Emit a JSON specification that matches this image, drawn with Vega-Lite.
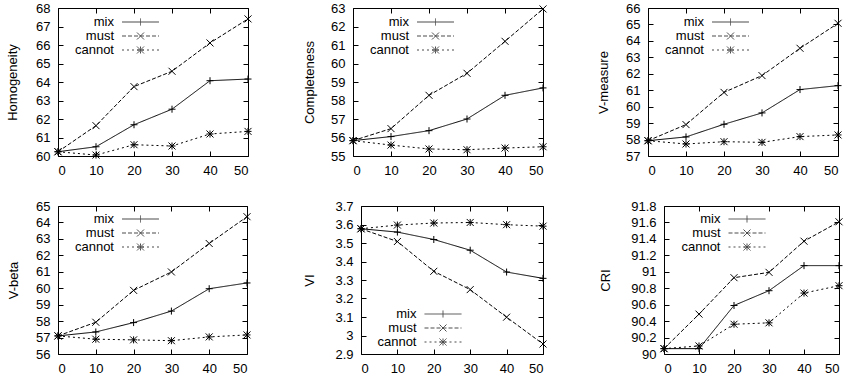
{
  "$schema": "https://vega.github.io/schema/vega-lite/v6.json",
  "autosize": {"type": "pad"},
  "padding": {"left": 5, "top": 1, "right": 4, "bottom": 2},
  "background": "white",
  "config": {
    "font": "Liberation Sans",
    "view": {"stroke": "black", "strokeWidth": 1},
    "axis": {
      "domain": false,
      "grid": false,
      "tickColor": "black",
      "tickSize": -5,
      "tickWidth": 1,
      "labelFontSize": 13,
      "labelColor": "black",
      "labelPadding": 13,
      "titleFontSize": 13,
      "titleFontWeight": "normal",
      "titleColor": "black"
    },
    "legend": {
      "orient": "none",
      "padding": 0,
      "title": null,
      "labelFontSize": 13,
      "labelColor": "black",
      "labelAlign": "right",
      "labelOffset": -33,
      "symbolSize": 144,
      "symbolStrokeWidth": 1,
      "symbolStrokeColor": "black",
      "symbolFillColor": "transparent",
      "rowPadding": 0
    }
  },
  "datasets": {
    "scores": [
      {"metric": "Homogeneity", "series": "mix", "pct": 0, "value": 60.23},
      {"metric": "Homogeneity", "series": "mix", "pct": 10, "value": 60.5},
      {"metric": "Homogeneity", "series": "mix", "pct": 20, "value": 61.69},
      {"metric": "Homogeneity", "series": "mix", "pct": 30, "value": 62.53},
      {"metric": "Homogeneity", "series": "mix", "pct": 40, "value": 64.07},
      {"metric": "Homogeneity", "series": "mix", "pct": 50, "value": 64.16},
      {"metric": "Homogeneity", "series": "must", "pct": 0, "value": 60.23},
      {"metric": "Homogeneity", "series": "must", "pct": 10, "value": 61.64},
      {"metric": "Homogeneity", "series": "must", "pct": 20, "value": 63.75},
      {"metric": "Homogeneity", "series": "must", "pct": 30, "value": 64.58},
      {"metric": "Homogeneity", "series": "must", "pct": 40, "value": 66.11},
      {"metric": "Homogeneity", "series": "must", "pct": 50, "value": 67.41},
      {"metric": "Homogeneity", "series": "cannot", "pct": 0, "value": 60.23},
      {"metric": "Homogeneity", "series": "cannot", "pct": 10, "value": 60.05},
      {"metric": "Homogeneity", "series": "cannot", "pct": 20, "value": 60.61},
      {"metric": "Homogeneity", "series": "cannot", "pct": 30, "value": 60.54},
      {"metric": "Homogeneity", "series": "cannot", "pct": 40, "value": 61.19},
      {"metric": "Homogeneity", "series": "cannot", "pct": 50, "value": 61.33},
      {"metric": "Completeness", "series": "mix", "pct": 0, "value": 55.83},
      {"metric": "Completeness", "series": "mix", "pct": 10, "value": 56.05},
      {"metric": "Completeness", "series": "mix", "pct": 20, "value": 56.37},
      {"metric": "Completeness", "series": "mix", "pct": 30, "value": 57.0},
      {"metric": "Completeness", "series": "mix", "pct": 40, "value": 58.28},
      {"metric": "Completeness", "series": "mix", "pct": 50, "value": 58.68},
      {"metric": "Completeness", "series": "must", "pct": 0, "value": 55.83},
      {"metric": "Completeness", "series": "must", "pct": 10, "value": 56.48},
      {"metric": "Completeness", "series": "must", "pct": 20, "value": 58.28},
      {"metric": "Completeness", "series": "must", "pct": 30, "value": 59.47},
      {"metric": "Completeness", "series": "must", "pct": 40, "value": 61.2},
      {"metric": "Completeness", "series": "must", "pct": 50, "value": 62.95},
      {"metric": "Completeness", "series": "cannot", "pct": 0, "value": 55.83},
      {"metric": "Completeness", "series": "cannot", "pct": 10, "value": 55.59},
      {"metric": "Completeness", "series": "cannot", "pct": 20, "value": 55.38},
      {"metric": "Completeness", "series": "cannot", "pct": 30, "value": 55.34},
      {"metric": "Completeness", "series": "cannot", "pct": 40, "value": 55.43},
      {"metric": "Completeness", "series": "cannot", "pct": 50, "value": 55.5},
      {"metric": "V-measure", "series": "mix", "pct": 0, "value": 57.93},
      {"metric": "V-measure", "series": "mix", "pct": 10, "value": 58.16},
      {"metric": "V-measure", "series": "mix", "pct": 20, "value": 58.93},
      {"metric": "V-measure", "series": "mix", "pct": 30, "value": 59.62},
      {"metric": "V-measure", "series": "mix", "pct": 40, "value": 61.04},
      {"metric": "V-measure", "series": "mix", "pct": 50, "value": 61.28},
      {"metric": "V-measure", "series": "must", "pct": 0, "value": 57.93},
      {"metric": "V-measure", "series": "must", "pct": 10, "value": 58.91},
      {"metric": "V-measure", "series": "must", "pct": 20, "value": 60.87},
      {"metric": "V-measure", "series": "must", "pct": 30, "value": 61.89},
      {"metric": "V-measure", "series": "must", "pct": 40, "value": 63.55},
      {"metric": "V-measure", "series": "must", "pct": 50, "value": 65.07},
      {"metric": "V-measure", "series": "cannot", "pct": 0, "value": 57.93},
      {"metric": "V-measure", "series": "cannot", "pct": 10, "value": 57.73},
      {"metric": "V-measure", "series": "cannot", "pct": 20, "value": 57.87},
      {"metric": "V-measure", "series": "cannot", "pct": 30, "value": 57.83},
      {"metric": "V-measure", "series": "cannot", "pct": 40, "value": 58.18},
      {"metric": "V-measure", "series": "cannot", "pct": 50, "value": 58.28},
      {"metric": "V-beta", "series": "mix", "pct": 0, "value": 57.1},
      {"metric": "V-beta", "series": "mix", "pct": 10, "value": 57.34},
      {"metric": "V-beta", "series": "mix", "pct": 20, "value": 57.91},
      {"metric": "V-beta", "series": "mix", "pct": 30, "value": 58.61},
      {"metric": "V-beta", "series": "mix", "pct": 40, "value": 59.97},
      {"metric": "V-beta", "series": "mix", "pct": 50, "value": 60.32},
      {"metric": "V-beta", "series": "must", "pct": 0, "value": 57.1},
      {"metric": "V-beta", "series": "must", "pct": 10, "value": 57.93},
      {"metric": "V-beta", "series": "must", "pct": 20, "value": 59.87},
      {"metric": "V-beta", "series": "must", "pct": 30, "value": 60.99},
      {"metric": "V-beta", "series": "must", "pct": 40, "value": 62.72},
      {"metric": "V-beta", "series": "must", "pct": 50, "value": 64.35},
      {"metric": "V-beta", "series": "cannot", "pct": 0, "value": 57.1},
      {"metric": "V-beta", "series": "cannot", "pct": 10, "value": 56.9},
      {"metric": "V-beta", "series": "cannot", "pct": 20, "value": 56.86},
      {"metric": "V-beta", "series": "cannot", "pct": 30, "value": 56.81},
      {"metric": "V-beta", "series": "cannot", "pct": 40, "value": 57.04},
      {"metric": "V-beta", "series": "cannot", "pct": 50, "value": 57.16},
      {"metric": "VI", "series": "mix", "pct": 0, "value": 3.577},
      {"metric": "VI", "series": "mix", "pct": 10, "value": 3.559},
      {"metric": "VI", "series": "mix", "pct": 20, "value": 3.519},
      {"metric": "VI", "series": "mix", "pct": 30, "value": 3.461},
      {"metric": "VI", "series": "mix", "pct": 40, "value": 3.343},
      {"metric": "VI", "series": "mix", "pct": 50, "value": 3.309},
      {"metric": "VI", "series": "must", "pct": 0, "value": 3.577},
      {"metric": "VI", "series": "must", "pct": 10, "value": 3.508},
      {"metric": "VI", "series": "must", "pct": 20, "value": 3.347},
      {"metric": "VI", "series": "must", "pct": 30, "value": 3.248},
      {"metric": "VI", "series": "must", "pct": 40, "value": 3.099},
      {"metric": "VI", "series": "must", "pct": 50, "value": 2.954},
      {"metric": "VI", "series": "cannot", "pct": 0, "value": 3.577},
      {"metric": "VI", "series": "cannot", "pct": 10, "value": 3.597},
      {"metric": "VI", "series": "cannot", "pct": 20, "value": 3.608},
      {"metric": "VI", "series": "cannot", "pct": 30, "value": 3.611},
      {"metric": "VI", "series": "cannot", "pct": 40, "value": 3.599},
      {"metric": "VI", "series": "cannot", "pct": 50, "value": 3.591},
      {"metric": "CRI", "series": "mix", "pct": 0, "value": 90.065},
      {"metric": "CRI", "series": "mix", "pct": 10, "value": 90.065},
      {"metric": "CRI", "series": "mix", "pct": 20, "value": 90.59},
      {"metric": "CRI", "series": "mix", "pct": 30, "value": 90.77},
      {"metric": "CRI", "series": "mix", "pct": 40, "value": 91.075},
      {"metric": "CRI", "series": "mix", "pct": 50, "value": 91.075},
      {"metric": "CRI", "series": "must", "pct": 0, "value": 90.065},
      {"metric": "CRI", "series": "must", "pct": 10, "value": 90.485},
      {"metric": "CRI", "series": "must", "pct": 20, "value": 90.928},
      {"metric": "CRI", "series": "must", "pct": 30, "value": 90.993},
      {"metric": "CRI", "series": "must", "pct": 40, "value": 91.372},
      {"metric": "CRI", "series": "must", "pct": 50, "value": 91.608},
      {"metric": "CRI", "series": "cannot", "pct": 0, "value": 90.065},
      {"metric": "CRI", "series": "cannot", "pct": 10, "value": 90.098},
      {"metric": "CRI", "series": "cannot", "pct": 20, "value": 90.362},
      {"metric": "CRI", "series": "cannot", "pct": 30, "value": 90.379},
      {"metric": "CRI", "series": "cannot", "pct": 40, "value": 90.741},
      {"metric": "CRI", "series": "cannot", "pct": 50, "value": 90.831}
    ]
  },
  "resolve": {"scale": {"strokeDash": "independent", "shape": "independent"}},
  "spacing": 21,
  "vconcat": [
    {
      "hconcat": [
        {
          "width": 190, "height": 148,
          "data": {"name": "scores"},
          "transform": [{"filter": "datum.metric === 'Homogeneity'"}],
          "encoding": {
            "x": {"field": "pct", "type": "quantitative", "scale": {"domain": [0, 50], "nice": false}},
            "y": {"field": "value", "type": "quantitative", "scale": {"domain": [60, 68], "nice": false, "zero": false}}
          },
          "layer": [
            {
              "mark": {"type": "line", "color": "black", "strokeWidth": 1},
              "encoding": {
                "x": {"field": "pct", "type": "quantitative", "axis": {"values": [0, 10, 20, 30, 40, 50], "title": null}},
                "y": {"field": "value", "type": "quantitative", "axis": {"values": [60, 61, 62, 63, 64, 65, 66, 67, 68], "format": "d", "title": "Homogeneity", "titleX": -46, "titleBaseline": "middle"}},
                "strokeDash": {"field": "series", "type": "nominal", "scale": {"domain": ["mix", "must", "cannot"], "range": [[1, 0], [4, 2], [2, 3]]}, "legend": {"legendX": 76, "legendY": 7.5}}
              }
            },
            {
              "transform": [{"filter": "false"}],
              "mark": {"type": "point", "filled": false, "color": "black", "strokeWidth": 1},
              "encoding": {
                "x": {"field": "pct", "type": "quantitative", "axis": null},
                "y": {"field": "value", "type": "quantitative", "axis": null},
                "shape": {"field": "series", "type": "nominal", "scale": {"domain": ["mix", "must", "cannot"], "range": [
                  "M-3.083,0L3.083,0M0,-0.583L0,0.583",
                  "M-3.083,0L3.083,0M0,0L0.292,0.292M0.292,0.292L0.583,0.583M0,0L-0.292,0.292M-0.292,0.292L-0.583,0.583M0,0L0.292,-0.292M0.292,-0.292L0.583,-0.583M0,0L-0.292,-0.292M-0.292,-0.292L-0.583,-0.583",
                  "M-3.083,0L3.083,0M0,0L0,0.292M0,0.292L0,0.583M0,0L0,-0.292M0,-0.292L0,-0.583M0,0L0.292,0M0.292,0L0.583,0M0,0L-0.292,0M-0.292,0L-0.583,0M0,0L0.194,0.194M0.194,0.194L0.389,0.389M0.389,0.389L0.583,0.583M0,0L-0.194,0.194M-0.194,0.194L-0.389,0.389M-0.389,0.389L-0.583,0.583M0,0L0.194,-0.194M0.194,-0.194L0.389,-0.389M0.389,-0.389L0.583,-0.583M0,0L-0.194,-0.194M-0.194,-0.194L-0.389,-0.389M-0.389,-0.389L-0.583,-0.583"
                ]}, "legend": {"legendX": 76, "legendY": 7.5}}
              }
            },
            {
              "transform": [{"filter": "datum.series === 'mix'"}],
              "mark": {"type": "point", "shape": "M-1,0L1,0M0,-1L0,1", "filled": false, "color": "black", "strokeWidth": 1, "size": 49, "opacity": 1},
              "encoding": {
                "x": {"field": "pct", "type": "quantitative", "axis": {"orient": "top", "labels": false, "values": [0, 10, 20, 30, 40, 50], "title": null}},
                "y": {"field": "value", "type": "quantitative", "axis": {"orient": "right", "labels": false, "values": [60, 61, 62, 63, 64, 65, 66, 67, 68], "title": null}}
              }
            },
            {
              "transform": [{"filter": "datum.series === 'must'"}],
              "mark": {"type": "point", "shape": "M-1,-1L1,1M-1,1L1,-1", "filled": false, "color": "black", "strokeWidth": 1, "size": 49, "opacity": 1},
              "encoding": {"x": {"field": "pct", "type": "quantitative", "axis": null}, "y": {"field": "value", "type": "quantitative", "axis": null}}
            },
            {
              "transform": [{"filter": "datum.series === 'cannot'"}],
              "mark": {"type": "point", "shape": "M-1,0L1,0M0,-1L0,1M-1,-1L1,1M-1,1L1,-1", "filled": false, "color": "black", "strokeWidth": 1, "size": 49, "opacity": 1},
              "encoding": {"x": {"field": "pct", "type": "quantitative", "axis": null}, "y": {"field": "value", "type": "quantitative", "axis": null}}
            }
          ],
          "resolve": {"axis": {"x": "independent", "y": "independent"}}
        },
        {
          "width": 190, "height": 148,
          "data": {"name": "scores"},
          "transform": [{"filter": "datum.metric === 'Completeness'"}],
          "encoding": {
            "x": {"field": "pct", "type": "quantitative", "scale": {"domain": [0, 50], "nice": false}},
            "y": {"field": "value", "type": "quantitative", "scale": {"domain": [55, 63], "nice": false, "zero": false}}
          },
          "layer": [
            {
              "mark": {"type": "line", "color": "black", "strokeWidth": 1},
              "encoding": {
                "x": {"field": "pct", "type": "quantitative", "axis": {"values": [0, 10, 20, 30, 40, 50], "title": null}},
                "y": {"field": "value", "type": "quantitative", "axis": {"values": [55, 56, 57, 58, 59, 60, 61, 62, 63], "format": "d", "title": "Completeness", "titleX": -44, "titleBaseline": "middle"}},
                "strokeDash": {"field": "series", "type": "nominal", "scale": {"domain": ["mix", "must", "cannot"], "range": [[1, 0], [4, 2], [2, 3]]}, "legend": {"legendX": 76, "legendY": 7.5}}
              }
            },
            {
              "transform": [{"filter": "false"}],
              "mark": {"type": "point", "filled": false, "color": "black", "strokeWidth": 1},
              "encoding": {
                "x": {"field": "pct", "type": "quantitative", "axis": null},
                "y": {"field": "value", "type": "quantitative", "axis": null},
                "shape": {"field": "series", "type": "nominal", "scale": {"domain": ["mix", "must", "cannot"], "range": [
                  "M-3.083,0L3.083,0M0,-0.583L0,0.583",
                  "M-3.083,0L3.083,0M0,0L0.292,0.292M0.292,0.292L0.583,0.583M0,0L-0.292,0.292M-0.292,0.292L-0.583,0.583M0,0L0.292,-0.292M0.292,-0.292L0.583,-0.583M0,0L-0.292,-0.292M-0.292,-0.292L-0.583,-0.583",
                  "M-3.083,0L3.083,0M0,0L0,0.292M0,0.292L0,0.583M0,0L0,-0.292M0,-0.292L0,-0.583M0,0L0.292,0M0.292,0L0.583,0M0,0L-0.292,0M-0.292,0L-0.583,0M0,0L0.194,0.194M0.194,0.194L0.389,0.389M0.389,0.389L0.583,0.583M0,0L-0.194,0.194M-0.194,0.194L-0.389,0.389M-0.389,0.389L-0.583,0.583M0,0L0.194,-0.194M0.194,-0.194L0.389,-0.389M0.389,-0.389L0.583,-0.583M0,0L-0.194,-0.194M-0.194,-0.194L-0.389,-0.389M-0.389,-0.389L-0.583,-0.583"
                ]}, "legend": {"legendX": 76, "legendY": 7.5}}
              }
            },
            {
              "transform": [{"filter": "datum.series === 'mix'"}],
              "mark": {"type": "point", "shape": "M-1,0L1,0M0,-1L0,1", "filled": false, "color": "black", "strokeWidth": 1, "size": 49, "opacity": 1},
              "encoding": {
                "x": {"field": "pct", "type": "quantitative", "axis": {"orient": "top", "labels": false, "values": [0, 10, 20, 30, 40, 50], "title": null}},
                "y": {"field": "value", "type": "quantitative", "axis": {"orient": "right", "labels": false, "values": [55, 56, 57, 58, 59, 60, 61, 62, 63], "title": null}}
              }
            },
            {
              "transform": [{"filter": "datum.series === 'must'"}],
              "mark": {"type": "point", "shape": "M-1,-1L1,1M-1,1L1,-1", "filled": false, "color": "black", "strokeWidth": 1, "size": 49, "opacity": 1},
              "encoding": {"x": {"field": "pct", "type": "quantitative", "axis": null}, "y": {"field": "value", "type": "quantitative", "axis": null}}
            },
            {
              "transform": [{"filter": "datum.series === 'cannot'"}],
              "mark": {"type": "point", "shape": "M-1,0L1,0M0,-1L0,1M-1,-1L1,1M-1,1L1,-1", "filled": false, "color": "black", "strokeWidth": 1, "size": 49, "opacity": 1},
              "encoding": {"x": {"field": "pct", "type": "quantitative", "axis": null}, "y": {"field": "value", "type": "quantitative", "axis": null}}
            }
          ],
          "resolve": {"axis": {"x": "independent", "y": "independent"}}
        },
        {
          "width": 190, "height": 148,
          "data": {"name": "scores"},
          "transform": [{"filter": "datum.metric === 'V-measure'"}],
          "encoding": {
            "x": {"field": "pct", "type": "quantitative", "scale": {"domain": [0, 50], "nice": false}},
            "y": {"field": "value", "type": "quantitative", "scale": {"domain": [57, 66], "nice": false, "zero": false}}
          },
          "layer": [
            {
              "mark": {"type": "line", "color": "black", "strokeWidth": 1},
              "encoding": {
                "x": {"field": "pct", "type": "quantitative", "axis": {"values": [0, 10, 20, 30, 40, 50], "title": null}},
                "y": {"field": "value", "type": "quantitative", "axis": {"values": [57, 58, 59, 60, 61, 62, 63, 64, 65, 66], "format": "d", "title": "V-measure", "titleX": -45, "titleBaseline": "middle"}},
                "strokeDash": {"field": "series", "type": "nominal", "scale": {"domain": ["mix", "must", "cannot"], "range": [[1, 0], [4, 2], [2, 3]]}, "legend": {"legendX": 76, "legendY": 7.5}}
              }
            },
            {
              "transform": [{"filter": "false"}],
              "mark": {"type": "point", "filled": false, "color": "black", "strokeWidth": 1},
              "encoding": {
                "x": {"field": "pct", "type": "quantitative", "axis": null},
                "y": {"field": "value", "type": "quantitative", "axis": null},
                "shape": {"field": "series", "type": "nominal", "scale": {"domain": ["mix", "must", "cannot"], "range": [
                  "M-3.083,0L3.083,0M0,-0.583L0,0.583",
                  "M-3.083,0L3.083,0M0,0L0.292,0.292M0.292,0.292L0.583,0.583M0,0L-0.292,0.292M-0.292,0.292L-0.583,0.583M0,0L0.292,-0.292M0.292,-0.292L0.583,-0.583M0,0L-0.292,-0.292M-0.292,-0.292L-0.583,-0.583",
                  "M-3.083,0L3.083,0M0,0L0,0.292M0,0.292L0,0.583M0,0L0,-0.292M0,-0.292L0,-0.583M0,0L0.292,0M0.292,0L0.583,0M0,0L-0.292,0M-0.292,0L-0.583,0M0,0L0.194,0.194M0.194,0.194L0.389,0.389M0.389,0.389L0.583,0.583M0,0L-0.194,0.194M-0.194,0.194L-0.389,0.389M-0.389,0.389L-0.583,0.583M0,0L0.194,-0.194M0.194,-0.194L0.389,-0.389M0.389,-0.389L0.583,-0.583M0,0L-0.194,-0.194M-0.194,-0.194L-0.389,-0.389M-0.389,-0.389L-0.583,-0.583"
                ]}, "legend": {"legendX": 76, "legendY": 7.5}}
              }
            },
            {
              "transform": [{"filter": "datum.series === 'mix'"}],
              "mark": {"type": "point", "shape": "M-1,0L1,0M0,-1L0,1", "filled": false, "color": "black", "strokeWidth": 1, "size": 49, "opacity": 1},
              "encoding": {
                "x": {"field": "pct", "type": "quantitative", "axis": {"orient": "top", "labels": false, "values": [0, 10, 20, 30, 40, 50], "title": null}},
                "y": {"field": "value", "type": "quantitative", "axis": {"orient": "right", "labels": false, "values": [57, 58, 59, 60, 61, 62, 63, 64, 65, 66], "title": null}}
              }
            },
            {
              "transform": [{"filter": "datum.series === 'must'"}],
              "mark": {"type": "point", "shape": "M-1,-1L1,1M-1,1L1,-1", "filled": false, "color": "black", "strokeWidth": 1, "size": 49, "opacity": 1},
              "encoding": {"x": {"field": "pct", "type": "quantitative", "axis": null}, "y": {"field": "value", "type": "quantitative", "axis": null}}
            },
            {
              "transform": [{"filter": "datum.series === 'cannot'"}],
              "mark": {"type": "point", "shape": "M-1,0L1,0M0,-1L0,1M-1,-1L1,1M-1,1L1,-1", "filled": false, "color": "black", "strokeWidth": 1, "size": 49, "opacity": 1},
              "encoding": {"x": {"field": "pct", "type": "quantitative", "axis": null}, "y": {"field": "value", "type": "quantitative", "axis": null}}
            }
          ],
          "resolve": {"axis": {"x": "independent", "y": "independent"}}
        }
      ],
      "spacing": 105,
      "bounds": "flush",
      "resolve": {"scale": {"strokeDash": "independent", "shape": "independent"}}
    },
    {
      "hconcat": [
        {
          "width": 189, "height": 148,
          "data": {"name": "scores"},
          "transform": [{"filter": "datum.metric === 'V-beta'"}],
          "encoding": {
            "x": {"field": "pct", "type": "quantitative", "scale": {"domain": [0, 50], "nice": false}},
            "y": {"field": "value", "type": "quantitative", "scale": {"domain": [56, 65], "nice": false, "zero": false}}
          },
          "layer": [
            {
              "mark": {"type": "line", "color": "black", "strokeWidth": 1},
              "encoding": {
                "x": {"field": "pct", "type": "quantitative", "axis": {"values": [0, 10, 20, 30, 40, 50], "title": null}},
                "y": {"field": "value", "type": "quantitative", "axis": {"values": [56, 57, 58, 59, 60, 61, 62, 63, 64, 65], "format": "d", "title": "V-beta", "titleX": -45, "titleBaseline": "middle"}},
                "strokeDash": {"field": "series", "type": "nominal", "scale": {"domain": ["mix", "must", "cannot"], "range": [[1, 0], [4, 2], [2, 3]]}, "legend": {"legendX": 76, "legendY": 6.5}}
              }
            },
            {
              "transform": [{"filter": "false"}],
              "mark": {"type": "point", "filled": false, "color": "black", "strokeWidth": 1},
              "encoding": {
                "x": {"field": "pct", "type": "quantitative", "axis": null},
                "y": {"field": "value", "type": "quantitative", "axis": null},
                "shape": {"field": "series", "type": "nominal", "scale": {"domain": ["mix", "must", "cannot"], "range": [
                  "M-3.083,0L3.083,0M0,-0.583L0,0.583",
                  "M-3.083,0L3.083,0M0,0L0.292,0.292M0.292,0.292L0.583,0.583M0,0L-0.292,0.292M-0.292,0.292L-0.583,0.583M0,0L0.292,-0.292M0.292,-0.292L0.583,-0.583M0,0L-0.292,-0.292M-0.292,-0.292L-0.583,-0.583",
                  "M-3.083,0L3.083,0M0,0L0,0.292M0,0.292L0,0.583M0,0L0,-0.292M0,-0.292L0,-0.583M0,0L0.292,0M0.292,0L0.583,0M0,0L-0.292,0M-0.292,0L-0.583,0M0,0L0.194,0.194M0.194,0.194L0.389,0.389M0.389,0.389L0.583,0.583M0,0L-0.194,0.194M-0.194,0.194L-0.389,0.389M-0.389,0.389L-0.583,0.583M0,0L0.194,-0.194M0.194,-0.194L0.389,-0.389M0.389,-0.389L0.583,-0.583M0,0L-0.194,-0.194M-0.194,-0.194L-0.389,-0.389M-0.389,-0.389L-0.583,-0.583"
                ]}, "legend": {"legendX": 76, "legendY": 6.5}}
              }
            },
            {
              "transform": [{"filter": "datum.series === 'mix'"}],
              "mark": {"type": "point", "shape": "M-1,0L1,0M0,-1L0,1", "filled": false, "color": "black", "strokeWidth": 1, "size": 49, "opacity": 1},
              "encoding": {
                "x": {"field": "pct", "type": "quantitative", "axis": {"orient": "top", "labels": false, "values": [0, 10, 20, 30, 40, 50], "title": null}},
                "y": {"field": "value", "type": "quantitative", "axis": {"orient": "right", "labels": false, "values": [56, 57, 58, 59, 60, 61, 62, 63, 64, 65], "title": null}}
              }
            },
            {
              "transform": [{"filter": "datum.series === 'must'"}],
              "mark": {"type": "point", "shape": "M-1,-1L1,1M-1,1L1,-1", "filled": false, "color": "black", "strokeWidth": 1, "size": 49, "opacity": 1},
              "encoding": {"x": {"field": "pct", "type": "quantitative", "axis": null}, "y": {"field": "value", "type": "quantitative", "axis": null}}
            },
            {
              "transform": [{"filter": "datum.series === 'cannot'"}],
              "mark": {"type": "point", "shape": "M-1,0L1,0M0,-1L0,1M-1,-1L1,1M-1,1L1,-1", "filled": false, "color": "black", "strokeWidth": 1, "size": 49, "opacity": 1},
              "encoding": {"x": {"field": "pct", "type": "quantitative", "axis": null}, "y": {"field": "value", "type": "quantitative", "axis": null}}
            }
          ],
          "resolve": {"axis": {"x": "independent", "y": "independent"}}
        },
        {
          "hconcat": [
            {
              "width": 182, "height": 148,
              "data": {"name": "scores"},
              "transform": [{"filter": "datum.metric === 'VI'"}],
              "encoding": {
                "x": {"field": "pct", "type": "quantitative", "scale": {"domain": [0, 50], "nice": false}},
                "y": {"field": "value", "type": "quantitative", "scale": {"domain": [2.9, 3.7], "nice": false, "zero": false}}
              },
              "layer": [
                {
                  "mark": {"type": "line", "color": "black", "strokeWidth": 1},
                  "encoding": {
                    "x": {"field": "pct", "type": "quantitative", "axis": {"values": [0, 10, 20, 30, 40, 50], "title": null}},
                    "y": {"field": "value", "type": "quantitative", "axis": {"values": [2.9, 3.0, 3.1, 3.2, 3.3, 3.4, 3.5, 3.6, 3.7], "format": ".1~f", "title": "VI", "titleX": -52, "titleBaseline": "middle"}},
                    "strokeDash": {"field": "series", "type": "nominal", "scale": {"domain": ["mix", "must", "cannot"], "range": [[1, 0], [4, 2], [2, 3]]}, "legend": {"legendX": 75.5, "legendY": 101.5}}
                  }
                },
                {
                  "transform": [{"filter": "false"}],
                  "mark": {"type": "point", "filled": false, "color": "black", "strokeWidth": 1},
                  "encoding": {
                    "x": {"field": "pct", "type": "quantitative", "axis": null},
                    "y": {"field": "value", "type": "quantitative", "axis": null},
                    "shape": {"field": "series", "type": "nominal", "scale": {"domain": ["mix", "must", "cannot"], "range": [
                      "M-3.083,0L3.083,0M0,-0.583L0,0.583",
                      "M-3.083,0L3.083,0M0,0L0.292,0.292M0.292,0.292L0.583,0.583M0,0L-0.292,0.292M-0.292,0.292L-0.583,0.583M0,0L0.292,-0.292M0.292,-0.292L0.583,-0.583M0,0L-0.292,-0.292M-0.292,-0.292L-0.583,-0.583",
                      "M-3.083,0L3.083,0M0,0L0,0.292M0,0.292L0,0.583M0,0L0,-0.292M0,-0.292L0,-0.583M0,0L0.292,0M0.292,0L0.583,0M0,0L-0.292,0M-0.292,0L-0.583,0M0,0L0.194,0.194M0.194,0.194L0.389,0.389M0.389,0.389L0.583,0.583M0,0L-0.194,0.194M-0.194,0.194L-0.389,0.389M-0.389,0.389L-0.583,0.583M0,0L0.194,-0.194M0.194,-0.194L0.389,-0.389M0.389,-0.389L0.583,-0.583M0,0L-0.194,-0.194M-0.194,-0.194L-0.389,-0.389M-0.389,-0.389L-0.583,-0.583"
                    ]}, "legend": {"legendX": 75.5, "legendY": 101.5}}
                  }
                },
                {
                  "transform": [{"filter": "datum.series === 'mix'"}],
                  "mark": {"type": "point", "shape": "M-1,0L1,0M0,-1L0,1", "filled": false, "color": "black", "strokeWidth": 1, "size": 49, "opacity": 1},
                  "encoding": {
                    "x": {"field": "pct", "type": "quantitative", "axis": {"orient": "top", "labels": false, "values": [0, 10, 20, 30, 40, 50], "title": null}},
                    "y": {"field": "value", "type": "quantitative", "axis": {"orient": "right", "labels": false, "values": [2.9, 3.0, 3.1, 3.2, 3.3, 3.4, 3.5, 3.6, 3.7], "title": null}}
                  }
                },
                {
                  "transform": [{"filter": "datum.series === 'must'"}],
                  "mark": {"type": "point", "shape": "M-1,-1L1,1M-1,1L1,-1", "filled": false, "color": "black", "strokeWidth": 1, "size": 49, "opacity": 1},
                  "encoding": {"x": {"field": "pct", "type": "quantitative", "axis": null}, "y": {"field": "value", "type": "quantitative", "axis": null}}
                },
                {
                  "transform": [{"filter": "datum.series === 'cannot'"}],
                  "mark": {"type": "point", "shape": "M-1,0L1,0M0,-1L0,1M-1,-1L1,1M-1,1L1,-1", "filled": false, "color": "black", "strokeWidth": 1, "size": 49, "opacity": 1},
                  "encoding": {"x": {"field": "pct", "type": "quantitative", "axis": null}, "y": {"field": "value", "type": "quantitative", "axis": null}}
                }
              ],
              "resolve": {"axis": {"x": "independent", "y": "independent"}}
            },
            {
              "width": 175, "height": 148,
              "data": {"name": "scores"},
              "transform": [{"filter": "datum.metric === 'CRI'"}],
              "encoding": {
                "x": {"field": "pct", "type": "quantitative", "scale": {"domain": [0, 50], "nice": false}},
                "y": {"field": "value", "type": "quantitative", "scale": {"domain": [90, 91.8], "nice": false, "zero": false}}
              },
              "layer": [
                {
                  "mark": {"type": "line", "color": "black", "strokeWidth": 1},
                  "encoding": {
                    "x": {"field": "pct", "type": "quantitative", "axis": {"values": [0, 10, 20, 30, 40, 50], "title": null}},
                    "y": {"field": "value", "type": "quantitative", "axis": {"values": [90, 90.2, 90.4, 90.6, 90.8, 91, 91.2, 91.4, 91.6, 91.8], "format": ".1~f", "title": "CRI", "titleX": -59, "titleBaseline": "middle"}},
                    "strokeDash": {"field": "series", "type": "nominal", "scale": {"domain": ["mix", "must", "cannot"], "range": [[1, 0], [4, 2], [2, 3]]}, "legend": {"legendX": 76.5, "legendY": 6.5}}
                  }
                },
                {
                  "transform": [{"filter": "false"}],
                  "mark": {"type": "point", "filled": false, "color": "black", "strokeWidth": 1},
                  "encoding": {
                    "x": {"field": "pct", "type": "quantitative", "axis": null},
                    "y": {"field": "value", "type": "quantitative", "axis": null},
                    "shape": {"field": "series", "type": "nominal", "scale": {"domain": ["mix", "must", "cannot"], "range": [
                      "M-3.083,0L3.083,0M0,-0.583L0,0.583",
                      "M-3.083,0L3.083,0M0,0L0.292,0.292M0.292,0.292L0.583,0.583M0,0L-0.292,0.292M-0.292,0.292L-0.583,0.583M0,0L0.292,-0.292M0.292,-0.292L0.583,-0.583M0,0L-0.292,-0.292M-0.292,-0.292L-0.583,-0.583",
                      "M-3.083,0L3.083,0M0,0L0,0.292M0,0.292L0,0.583M0,0L0,-0.292M0,-0.292L0,-0.583M0,0L0.292,0M0.292,0L0.583,0M0,0L-0.292,0M-0.292,0L-0.583,0M0,0L0.194,0.194M0.194,0.194L0.389,0.389M0.389,0.389L0.583,0.583M0,0L-0.194,0.194M-0.194,0.194L-0.389,0.389M-0.389,0.389L-0.583,0.583M0,0L0.194,-0.194M0.194,-0.194L0.389,-0.389M0.389,-0.389L0.583,-0.583M0,0L-0.194,-0.194M-0.194,-0.194L-0.389,-0.389M-0.389,-0.389L-0.583,-0.583"
                    ]}, "legend": {"legendX": 76.5, "legendY": 6.5}}
                  }
                },
                {
                  "transform": [{"filter": "datum.series === 'mix'"}],
                  "mark": {"type": "point", "shape": "M-1,0L1,0M0,-1L0,1", "filled": false, "color": "black", "strokeWidth": 1, "size": 49, "opacity": 1},
                  "encoding": {
                    "x": {"field": "pct", "type": "quantitative", "axis": {"orient": "top", "labels": false, "values": [0, 10, 20, 30, 40, 50], "title": null}},
                    "y": {"field": "value", "type": "quantitative", "axis": {"orient": "right", "labels": false, "values": [90, 90.2, 90.4, 90.6, 90.8, 91, 91.2, 91.4, 91.6, 91.8], "title": null}}
                  }
                },
                {
                  "transform": [{"filter": "datum.series === 'must'"}],
                  "mark": {"type": "point", "shape": "M-1,-1L1,1M-1,1L1,-1", "filled": false, "color": "black", "strokeWidth": 1, "size": 49, "opacity": 1},
                  "encoding": {"x": {"field": "pct", "type": "quantitative", "axis": null}, "y": {"field": "value", "type": "quantitative", "axis": null}}
                },
                {
                  "transform": [{"filter": "datum.series === 'cannot'"}],
                  "mark": {"type": "point", "shape": "M-1,0L1,0M0,-1L0,1M-1,-1L1,1M-1,1L1,-1", "filled": false, "color": "black", "strokeWidth": 1, "size": 49, "opacity": 1},
                  "encoding": {"x": {"field": "pct", "type": "quantitative", "axis": null}, "y": {"field": "value", "type": "quantitative", "axis": null}}
                }
              ],
              "resolve": {"axis": {"x": "independent", "y": "independent"}}
            }
          ],
          "spacing": 121,
          "bounds": "flush",
          "resolve": {"scale": {"strokeDash": "independent", "shape": "independent"}}
        }
      ],
      "spacing": 114,
      "bounds": "flush",
      "resolve": {"scale": {"strokeDash": "independent", "shape": "independent"}}
    }
  ]
}
